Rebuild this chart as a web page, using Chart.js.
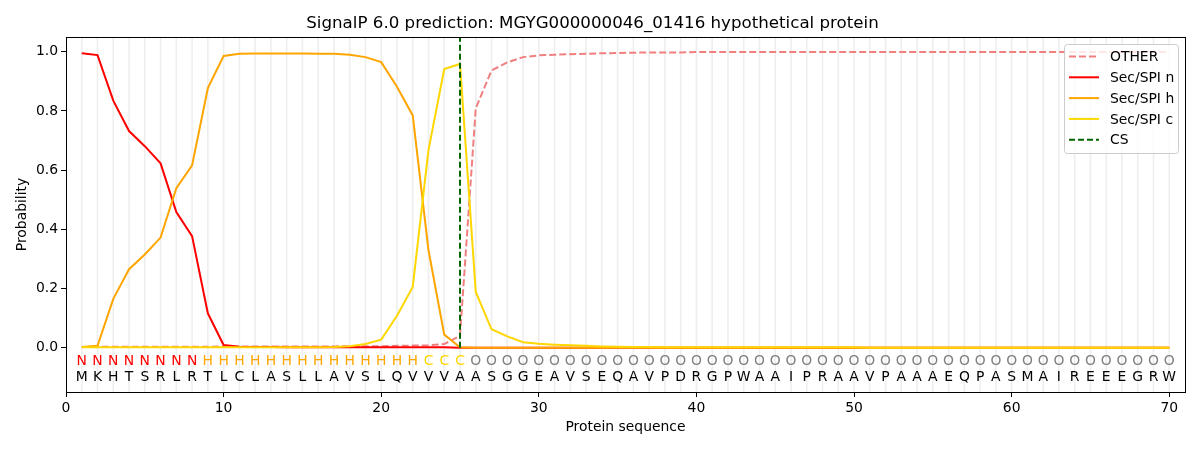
<!DOCTYPE html>
<html><head><meta charset="utf-8">
<script src="https://cdn.jsdelivr.net/npm/chart.js@4.4.1/dist/chart.umd.min.js"></script>
<style>html,body{margin:0;padding:0;background:#fff}</style>
</head><body>
<canvas id="c" width="1200" height="450"></canvas>
<script>
const titleText = "SignalP 6.0 prediction: MGYG000000046_01416 hypothetical protein";
const positions = [1,2,3,4,5,6,7,8,9,10,11,12,13,14,15,16,17,18,19,20,21,22,23,24,25,26,27,28,29,30,31,32,33,34,35,36,37,38,39,40,41,42,43,44,45,46,47,48,49,50,51,52,53,54,55,56,57,58,59,60,61,62,63,64,65,66,67,68,69,70];
const residues = ["M","K","H","T","S","R","L","R","T","L","C","L","A","S","L","L","A","V","S","L","Q","V","V","V","A","A","S","G","G","E","A","V","S","E","Q","A","V","P","D","R","G","P","W","A","A","I","P","R","A","A","V","P","A","A","A","E","Q","P","A","S","M","A","I","R","E","E","E","G","R","W"];
const regions = ["N","N","N","N","N","N","N","N","H","H","H","H","H","H","H","H","H","H","H","H","H","H","C","C","C","O","O","O","O","O","O","O","O","O","O","O","O","O","O","O","O","O","O","O","O","O","O","O","O","O","O","O","O","O","O","O","O","O","O","O","O","O","O","O","O","O","O","O","O","O"];
const otherProb = [0.002,0.003,0.003,0.003,0.003,0.003,0.003,0.003,0.003,0.004,
  0.004,0.004,0.004,0.004,0.004,0.004,0.004,0.005,0.005,0.005,
  0.006,0.007,0.008,0.012,0.040,0.809,0.937,0.964,0.982,0.988,
  0.990,0.992,0.993,0.995,0.996,0.997,0.998,0.998,0.998,0.999,
  0.999,0.999,0.999,0.999,0.999,0.999,0.999,0.999,0.999,0.999,
  0.999,0.999,0.999,0.999,0.999,0.999,0.999,0.999,0.999,0.999,
  0.999,0.999,0.999,0.999,0.999,0.999,0.999,0.999,0.999,0.999];
const nProb = [0.995,0.989,0.835,0.732,0.681,0.623,0.458,0.377,0.116,0.009,
  0.003,0.002,0.002,0.001,0.001,0.001,0.001,0.001,0.001,0.001,
  0.001,0.001,0.001,0.001,0.000,0,0,0,0,0,
  0,0,0,0,0,0,0,0,0,0,
  0,0,0,0,0,0,0,0,0,0,
  0,0,0,0,0,0,0,0,0,0,
  0,0,0,0,0,0,0,0,0,0];
const hProb = [0.002,0.006,0.165,0.265,0.315,0.372,0.539,0.616,0.877,0.986,
  0.993,0.994,0.994,0.994,0.994,0.993,0.993,0.990,0.982,0.965,
  0.882,0.785,0.329,0.044,0.001,0,0,0,0,0,
  0,0,0,0,0,0,0,0,0,0,
  0,0,0,0,0,0,0,0,0,0,
  0,0,0,0,0,0,0,0,0,0,
  0,0,0,0,0,0,0,0,0,0];
const cProb = [0.001,0.001,0.001,0.001,0.001,0.001,0.001,0.001,0.001,0.001,
  0.001,0.001,0.001,0.001,0.001,0.001,0.002,0.005,0.012,0.027,
  0.108,0.205,0.668,0.942,0.959,0.188,0.062,0.038,0.018,0.013,
  0.010,0.008,0.006,0.004,0.003,0.002,0.002,0.001,0.001,0.001,
  0.001,0.001,0.001,0.001,0.001,0.001,0.001,0.001,0.001,0.001,
  0,0,0,0,0,0,0,0,0,0,
  0,0,0,0,0,0,0,0,0,0];
const csPosition = 25;
const csRange = [0, 1.05];
const xTicks = [0,10,20,30,40,50,60,70];
const yTicks = [0,0.2,0.4,0.6,0.8,1.0];
const regionColors = {N:"#ff0000", H:"#ffa500", C:"#ffd700", O:"#808080"};

const FS = 13.9;
Chart.defaults.font.family = "'DejaVu Sans', sans-serif";
Chart.defaults.color = "#000";

const pts = arr => positions.map((p,i)=>({x:p, y:arr[i]}));

const bgGrid = {
  id:'bgGrid',
  beforeDatasetsDraw(chart){
    const {ctx, chartArea:a, scales:{x}} = chart;
    ctx.save();
    ctx.strokeStyle = '#eeeeee';
    ctx.lineWidth = 1.6;
    positions.forEach(p=>{
      const px = x.getPixelForValue(p);
      ctx.beginPath(); ctx.moveTo(px, a.top); ctx.lineTo(px, a.bottom); ctx.stroke();
    });
    ctx.restore();
  }
};

const overlay = {
  id:'overlay',
  afterDatasetsDraw(chart){
    const {ctx, chartArea:a, scales:{x,y}} = chart;
    ctx.save();
    ctx.font = FS + "px 'DejaVu Sans'";
    ctx.textAlign = 'center';
    ctx.textBaseline = 'middle';
    positions.forEach((p,i)=>{
      const px = x.getPixelForValue(p);
      ctx.fillStyle = regionColors[regions[i]];
      ctx.fillText(regions[i], px, y.getPixelForValue(-0.047));
      ctx.fillStyle = '#000';
      ctx.fillText(residues[i], px, y.getPixelForValue(-0.102));
    });
    ctx.strokeStyle = '#000';
    ctx.lineWidth = 1;
    ctx.strokeRect(Math.round(a.left)+0.5, Math.round(a.top)+0.5, Math.round(a.right-a.left), Math.round(a.bottom-a.top));
    const ds = chart.data.datasets;
    const w = 114, h = 109;
    const lx = a.right - 7 - w, ly = a.top + 7;
    ctx.fillStyle = 'rgba(255,255,255,0.8)';
    ctx.strokeStyle = '#cccccc';
    ctx.beginPath();
    ctx.roundRect(lx+0.5, ly+0.5, w, h, 3);
    ctx.fill(); ctx.stroke();
    ctx.textAlign = 'left';
    ds.forEach((d,i)=>{
      const ry = ly + 12.5 + i*20.8;
      ctx.strokeStyle = d.borderColor;
      ctx.lineWidth = d.borderWidth;
      ctx.setLineDash(d.borderDash || []);
      ctx.beginPath(); ctx.moveTo(lx+5, ry); ctx.lineTo(lx+35, ry); ctx.stroke();
      ctx.setLineDash([]);
      ctx.fillStyle = '#000';
      ctx.fillText(d.label, lx+46, ry+1);
    });
    ctx.restore();
  }
};

new Chart(document.getElementById('c'), {
  type:'line',
  data:{
    datasets:[
      {label:'OTHER', data:pts(otherProb), borderColor:'#f08080', borderWidth:2, borderDash:[7,3], pointRadius:0, order:4},
      {label:'Sec/SPI n', data:pts(nProb), borderColor:'#ff0000', borderWidth:2, pointRadius:0, order:3},
      {label:'Sec/SPI h', data:pts(hProb), borderColor:'#ffa500', borderWidth:2, pointRadius:0, order:2},
      {label:'Sec/SPI c', data:pts(cProb), borderColor:'#ffd700', borderWidth:2, pointRadius:0, order:1},
      {label:'CS', data:[{x:csPosition,y:csRange[0]},{x:csPosition,y:csRange[1]}], borderColor:'#006400', borderWidth:2, borderDash:[6,3], pointRadius:0, order:0}
    ]
  },
  options:{
    responsive:false,
    animation:false,
    devicePixelRatio:1,
    layout:{padding:{left:0,right:15,top:0,bottom:0}},
    plugins:{
      legend:{display:false},
      tooltip:{enabled:false},
      title:{display:true, text:titleText, font:{size:16.67, weight:'normal'}, color:'#000', padding:{top:14,bottom:3}}
    },
    scales:{
      x:{type:'linear', min:0, max:71,
        afterBuildTicks(s){ s.ticks = xTicks.map(v=>({value:v})); },
        afterFit(s){ s.height = 58; },
        ticks:{font:{size:FS}, color:'#000', padding:3, maxRotation:0, callback:v=>String(v)},
        grid:{drawOnChartArea:false, drawTicks:true, tickLength:5, color:'#000'},
        border:{color:'#000', width:1},
        title:{display:true, text:'Protein sequence', font:{size:FS}, color:'#000', padding:{top:2,bottom:14}}
      },
      y:{type:'linear', min:-0.15, max:1.05,
        afterBuildTicks(s){ s.ticks = yTicks.map(v=>({value:v})); },
        afterFit(s){ s.width = 66; },
        ticks:{font:{size:FS}, color:'#000', padding:3, callback:v=>Number(v).toFixed(1)},
        grid:{drawOnChartArea:false, drawTicks:true, tickLength:5, color:'#000'},
        border:{color:'#000', width:1},
        title:{display:true, text:'Probability', font:{size:FS}, color:'#000', padding:{top:14,bottom:0}}
      }
    }
  },
  plugins:[bgGrid, overlay]
});
</script>
</body></html>
